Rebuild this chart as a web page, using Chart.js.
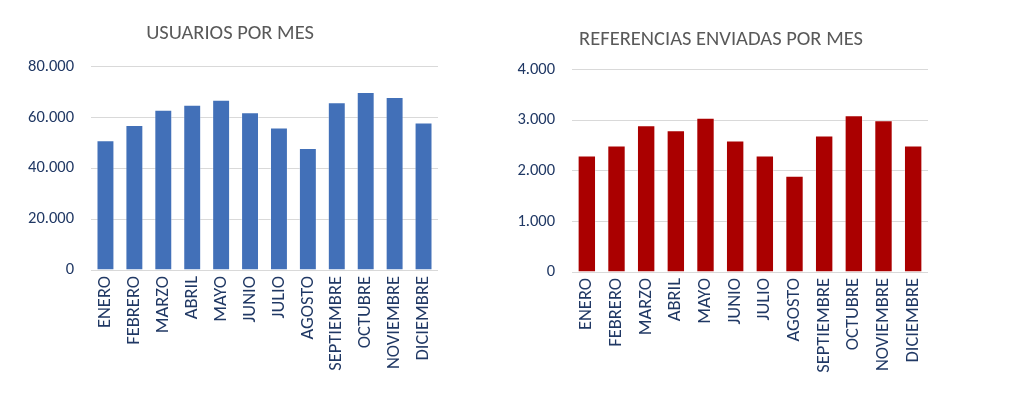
<!DOCTYPE html>
<html lang="es">
<head>
<meta charset="utf-8">
<title>Usuarios y referencias por mes</title>
<script src="https://cdn.jsdelivr.net/npm/chart.js@4/dist/chart.umd.min.js"></script>
<style>
  html, body { margin: 0; padding: 0; background: #fff; }
  body { width: 1024px; height: 420px; position: relative; overflow: hidden; }
  .chart-box { position: absolute; top: 0; height: 420px; }
  #boxUsuarios { left: 0; width: 464px; }
  #boxReferencias { left: 500px; width: 452px; }
</style>
</head>
<body>
<div class="chart-box" id="boxUsuarios"><canvas id="chartUsuarios"></canvas></div>
<div class="chart-box" id="boxReferencias"><canvas id="chartReferencias"></canvas></div>

<script>
// ── Datos ──
const MESES = ['ENERO', 'FEBRERO', 'MARZO', 'ABRIL', 'MAYO', 'JUNIO', 'JULIO',
  'AGOSTO', 'SEPTIEMBRE', 'OCTUBRE', 'NOVIEMBRE', 'DICIEMBRE'];
const USUARIOS = [51000, 57000, 63000, 65000, 67000, 62000, 56000, 48000, 66000, 70000, 68000, 58000];
const REFERENCIAS = [2300, 2500, 2900, 2800, 3050, 2600, 2300, 1900, 2700, 3100, 3000, 2500];
const USUARIOS_EJE = [0, 80000, 20000];     // min, max, paso
const REFERENCIAS_EJE = [0, 4000, 1000];

const FONT = 'Calibri, Carlito, Lato, "Open Sans", sans-serif';
const TICK_COLOR = '#203864';
const TITLE_COLOR = '#595959';
const GRID_COLOR = '#d9d9d9';

// 80000 -> "80.000"
function fmtMiles(v) {
  return String(v).replace(/\B(?=(\d{3})+(?!\d))/g, '.');
}

document.addEventListener('DOMContentLoaded', () => {
  renderBarras('chartUsuarios', {
    titulo: 'USUARIOS POR MES',
    valores: USUARIOS,
    eje: USUARIOS_EJE,
    color: '#4270b8',
    yWidth: 69,
    xHeight: 150,
    pad: { left: 22, right: 26 },
    titlePad: { top: 22, bottom: 20 },
  });
  renderBarras('chartReferencias', {
    titulo: 'REFERENCIAS ENVIADAS POR MES',
    valores: REFERENCIAS,
    eje: REFERENCIAS_EJE,
    color: '#aa0000',
    yWidth: 58,
    xHeight: 148,
    pad: { left: 14, right: 24 },
    titlePad: { top: 28, bottom: 17 },
  });
});

function renderBarras(id, cfg) {
  const ctx = document.getElementById(id).getContext('2d');
  new Chart(ctx, {
    type: 'bar',
    data: {
      labels: MESES,
      datasets: [{
        data: cfg.valores,
        backgroundColor: cfg.color,
        borderColor: 'rgba(255,255,255,0.35)',
        borderWidth: 1,
        barPercentage: 0.62,
        categoryPercentage: 1,
      }]
    },
    options: {
      responsive: true,
      maintainAspectRatio: false,
      animation: false,
      layout: { padding: { top: 0, bottom: 0, left: cfg.pad.left, right: cfg.pad.right } },
      plugins: {
        legend: { display: false },
        tooltip: { enabled: false },
        title: {
          display: true,
          text: cfg.titulo,
          color: TITLE_COLOR,
          font: { family: FONT, size: 20.5, weight: 'normal', lineHeight: 1.2 },
          padding: cfg.titlePad,
        }
      },
      scales: {
        x: {
          grid: { display: false, drawTicks: false },
          border: { display: false },
          ticks: {
            color: TICK_COLOR,
            font: { family: FONT, size: 18.5 },
            minRotation: 90,
            maxRotation: 90,
            autoSkip: false,
            padding: 6,
          },
          afterFit: s => { s.height = cfg.xHeight; }
        },
        y: {
          min: cfg.eje[0],
          max: cfg.eje[1],
          grid: { color: GRID_COLOR, lineWidth: 1, drawTicks: false },
          border: { display: false },
          ticks: {
            stepSize: cfg.eje[2],
            color: TICK_COLOR,
            font: { family: FONT, size: 16.5 },
            padding: 17,
            callback: v => fmtMiles(v),
          },
          afterFit: s => { s.width = cfg.yWidth; }
        }
      }
    }
  });
}
</script>
</body>
</html>
